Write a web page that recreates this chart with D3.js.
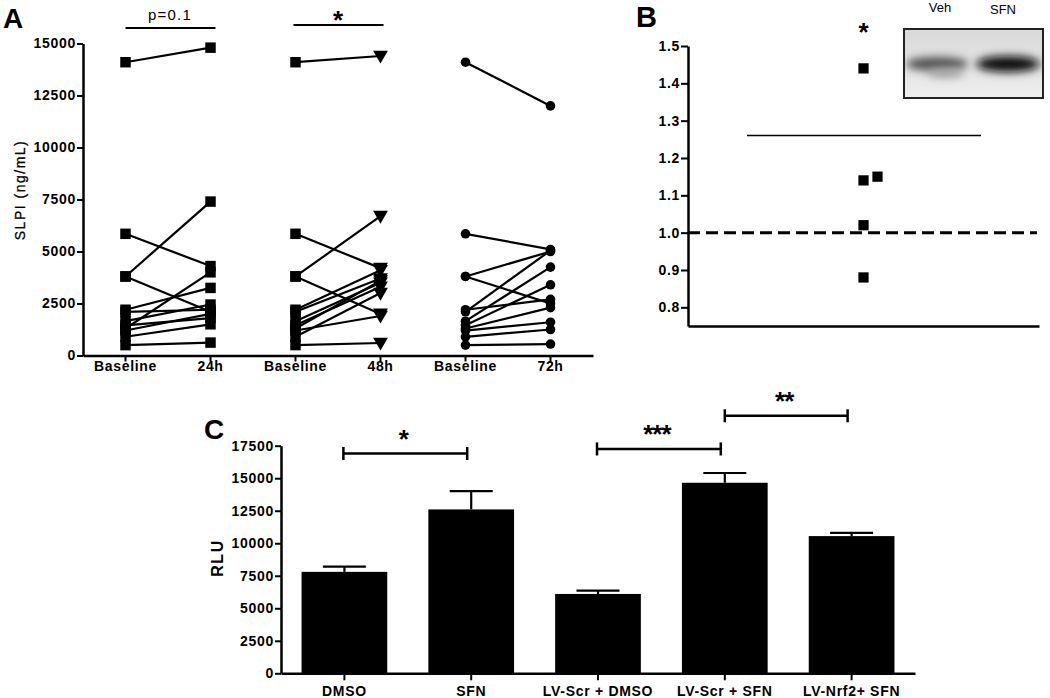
<!DOCTYPE html>
<html>
<head>
<meta charset="utf-8">
<script src="https://cdn.jsdelivr.net/npm/d3@7"></script>
<style>
  html, body { margin: 0; padding: 0; background: #fff; }
  svg { display: block; }
  text { font-family: "Liberation Sans", Arial, sans-serif; fill: #000; }
</style>
</head>
<body>
<svg id="chart" width="1050" height="698"></svg>
<script>
// ---------- Panel A data ----------
const aKeys = ["b24", "24h", "b48", "48h", "b72", "72h"];
const aLabels = ["Baseline", "24h", "Baseline", "48h", "Baseline", "72h"];
const aTicks = [0, 2500, 5000, 7500, 10000, 12500, 15000];
const baseline = [14100, 5850, 3800, 3800, 2200, 2100, 1650, 1450, 1300, 1200, 900, 500];
const h24 = [14800, 4300, 7400, 2100, 3250, 2200, 2450, 1800, 4000, 2000, 1500, 620];
const h48 = [14400, 4200, 6700, 2000, 4100, 3700, 3500, 3300, 3600, 1900, 3000, 600];
const h72 = [12000, 5100, 5000, 2500, 2700, 5050, 4250, 3400, 2300, 1600, 1250, 550];

// ---------- Panel B data ----------
const bValues = [1.44, 1.14, 1.15, 1.02, 0.88];
const bTicks = [0.8, 0.9, 1.0, 1.1, 1.2, 1.3, 1.4, 1.5];
const bReference = 1.0;
const bSigLevel = 1.26;

// ---------- Panel C data ----------
const cCategories = ["DMSO", "SFN", "LV-Scr + DMSO", "LV-Scr + SFN", "LV-Nrf2+ SFN"];
const cMeans = [7800, 12600, 6100, 14650, 10550];
const cErrors = [400, 1400, 250, 750, 250];
const cTicks = [0, 2500, 5000, 7500, 10000, 12500, 15000, 17500];
const cBrackets = [
  { from: "DMSO", to: "SFN", label: "*", level: 16900 },
  { from: "LV-Scr + DMSO", to: "LV-Scr + SFN", label: "***", level: 17250 },
  { from: "LV-Scr + SFN", to: "LV-Nrf2+ SFN", label: "**", level: 19800 }
];

const svg = d3.select("#chart");

function styleAxis(g) {
  g.select(".domain").attr("stroke", "#000").attr("stroke-width", 2.5);
  g.selectAll(".tick line").attr("stroke", "#000").attr("stroke-width", 2);
  g.selectAll(".tick text")
    .attr("fill", "#000")
    .style("font-family", '"Liberation Sans", Arial, sans-serif')
    .style("font-weight", "bold")
    .style("font-size", "14px")
    .style("letter-spacing", "0.7px");
}

// ================= PANEL A =================
const xA = d3.scaleBand().domain(aKeys).range([83, 593]);
const yA = d3.scaleLinear().domain([0, 15000]).range([355.5, 43.5]);
const cx = k => xA(k) + xA.bandwidth() / 2;

const gA = svg.append("g");
gA.append("g").attr("transform", "translate(83,0)")
  .call(d3.axisLeft(yA).tickValues(aTicks).tickSize(6).tickSizeOuter(0).tickPadding(1).tickFormat(d3.format("d")))
  .call(styleAxis);
const axA = gA.append("g").attr("transform", `translate(0,${yA(0)})`)
  .call(d3.axisBottom(xA).tickSize(6).tickSizeOuter(0).tickPadding(4).tickFormat((d, i) => aLabels[i]))
  .call(styleAxis);
axA.selectAll(".tick text").attr("y", 15).attr("dy", 0);

const pairs = [
  { a: "b24", b: "24h", base: baseline, vals: h24, symA: d3.symbolSquare, symB: d3.symbolSquare, flipB: false },
  { a: "b48", b: "48h", base: baseline, vals: h48, symA: d3.symbolSquare, symB: d3.symbolTriangle, flipB: true },
  { a: "b72", b: "72h", base: baseline, vals: h72, symA: d3.symbolCircle, symB: d3.symbolCircle, flipB: false }
];
const symSize = s => s === d3.symbolSquare ? 110 : (s === d3.symbolTriangle ? 95 : 72);
pairs.forEach(p => {
  p.base.forEach((v, i) => {
    gA.append("line")
      .attr("x1", cx(p.a)).attr("y1", yA(v))
      .attr("x2", cx(p.b)).attr("y2", yA(p.vals[i]))
      .attr("stroke", "#000").attr("stroke-width", 2.2);
  });
  p.base.forEach(v => {
    gA.append("path").attr("d", d3.symbol(p.symA, symSize(p.symA))())
      .attr("transform", `translate(${cx(p.a)},${yA(v)})`).attr("fill", "#000");
  });
  p.vals.forEach(v => {
    gA.append("path").attr("d", d3.symbol(p.symB, symSize(p.symB))())
      .attr("transform", `translate(${cx(p.b)},${yA(v) + (p.flipB ? -1 : 0)}) rotate(${p.flipB ? 180 : 0})`)
      .attr("fill", "#000");
  });
});

// significance A
gA.append("line").attr("x1", cx("b24")).attr("x2", cx("24h") + 5).attr("y1", 28).attr("y2", 28)
  .attr("stroke", "#000").attr("stroke-width", 2.2);
gA.append("text").attr("x", (cx("b24") + cx("24h")) / 2 + 2).attr("y", 20).attr("text-anchor", "middle")
  .style("font-size", "15px").style("letter-spacing", "1.2px").text("p=0.1");
gA.append("line").attr("x1", cx("b48") - 2).attr("x2", cx("48h") + 3).attr("y1", 25).attr("y2", 25)
  .attr("stroke", "#000").attr("stroke-width", 2.2);
gA.append("text").attr("x", (cx("b48") + cx("48h")) / 2).attr("y", 29).attr("text-anchor", "middle")
  .style("font-size", "26px").style("font-weight", "bold").text("*");

gA.append("text").attr("transform", "translate(25,190) rotate(-90)").attr("text-anchor", "middle")
  .style("font-size", "14px").style("letter-spacing", "1.5px").style("stroke", "#000").style("stroke-width", "0.3px")
  .text("SLPI (ng/mL)");
gA.append("text").attr("x", 3).attr("y", 28).style("font-size", "28px").style("font-weight", "bold").text("A");

// ================= PANEL B =================
const xB = d3.scaleBand().domain(["SFN"]).range([688, 1039]);
const yB = d3.scaleLinear().domain([0.75, 1.5]).range([326, 46]);
const gB = svg.append("g");
gB.append("g").attr("transform", "translate(688,0)")
  .call(d3.axisLeft(yB).tickValues(bTicks).tickSize(7).tickSizeOuter(0).tickPadding(1).tickFormat(d3.format(".1f")))
  .call(styleAxis);
gB.append("g").attr("transform", `translate(0,${yB(0.75)})`)
  .call(d3.axisBottom(xB).tickSize(0).tickSizeOuter(0).tickFormat(""))
  .call(styleAxis);
gB.append("line").attr("x1", 688).attr("x2", 1037).attr("y1", yB(bReference)).attr("y2", yB(bReference))
  .attr("stroke", "#000").attr("stroke-width", 3).attr("stroke-dasharray", "12,6");
gB.append("line").attr("x1", 747).attr("x2", 981).attr("y1", yB(bSigLevel)).attr("y2", yB(bSigLevel))
  .attr("stroke", "#000").attr("stroke-width", 1.5);
const bCenter = xB("SFN") + xB.bandwidth() / 2;
const placed = [];
bValues.forEach(v => {
  let off = 0;
  while (placed.some(p => p.off === off && Math.abs(yB(p.v) - yB(v)) < 10)) off += 14;
  placed.push({ v, off });
  gB.append("path").attr("d", d3.symbol(d3.symbolSquare, 105)())
    .attr("transform", `translate(${bCenter + off},${yB(v)})`).attr("fill", "#000");
});
gB.append("text").attr("x", bCenter).attr("y", 41).attr("text-anchor", "middle")
  .style("font-size", "26px").style("font-weight", "bold").text("*");
gB.append("text").attr("x", 636).attr("y", 27).style("font-size", "29px").style("font-weight", "bold").text("B");

// western blot inset (illustrative)
const defs = svg.append("defs");
defs.append("filter").attr("id", "blur").attr("x", "-40%").attr("y", "-120%").attr("width", "180%").attr("height", "340%")
  .append("feGaussianBlur").attr("stdDeviation", 4);
const bg = defs.append("linearGradient").attr("id", "blotbg").attr("x1", 0).attr("x2", 0).attr("y1", 0).attr("y2", 1);
bg.append("stop").attr("offset", "0%").attr("stop-color", "#d9d9d9");
bg.append("stop").attr("offset", "50%").attr("stop-color", "#e2e2e2");
bg.append("stop").attr("offset", "100%").attr("stop-color", "#efefef");
const blot = gB.append("g");
blot.append("clipPath").attr("id", "blotclip").append("rect").attr("x", 904).attr("y", 29).attr("width", 139).attr("height", 69);
const blotInner = blot.append("g").attr("clip-path", "url(#blotclip)");
blotInner.append("rect").attr("x", 904).attr("y", 29).attr("width", 139).attr("height", 69).attr("fill", "url(#blotbg)");
blotInner.append("ellipse").attr("cx", 937).attr("cy", 64).attr("rx", 31).attr("ry", 7).attr("fill", "#505050").attr("filter", "url(#blur)");
blotInner.append("ellipse").attr("cx", 946).attr("cy", 73).attr("rx", 18).attr("ry", 5).attr("fill", "#a5a5a5").attr("filter", "url(#blur)");
blotInner.append("ellipse").attr("cx", 1008).attr("cy", 64).attr("rx", 32).attr("ry", 8).attr("fill", "#111").attr("filter", "url(#blur)");
blot.append("rect").attr("x", 904).attr("y", 29).attr("width", 139).attr("height", 69)
  .attr("fill", "none").attr("stroke", "#222").attr("stroke-width", 2);
gB.append("text").attr("x", 940).attr("y", 12).attr("text-anchor", "middle").style("font-size", "13px").text("Veh");
gB.append("text").attr("x", 1003).attr("y", 14).attr("text-anchor", "middle").style("font-size", "13px").text("SFN");

// ================= PANEL C =================
const xC = d3.scaleBand().domain(cCategories).range([281, 915]).paddingInner(0.324).paddingOuter(0.162);
const yC = d3.scaleLinear().domain([0, 17500]).range([673.3, 445.7]);
const ccx = k => xC(k) + xC.bandwidth() / 2;
const gC = svg.append("g");

gC.selectAll("rect.bar").data(cCategories).join("rect").attr("class", "bar")
  .attr("x", d => xC(d)).attr("width", xC.bandwidth())
  .attr("y", (d, i) => yC(cMeans[i])).attr("height", (d, i) => yC(0) - yC(cMeans[i]))
  .attr("fill", "#000");
cCategories.forEach((c, i) => {
  const top = yC(cMeans[i] + cErrors[i]);
  gC.append("line").attr("x1", ccx(c)).attr("x2", ccx(c)).attr("y1", yC(cMeans[i])).attr("y2", top)
    .attr("stroke", "#000").attr("stroke-width", 2.2);
  gC.append("line").attr("x1", ccx(c) - 21.5).attr("x2", ccx(c) + 21.5).attr("y1", top).attr("y2", top)
    .attr("stroke", "#000").attr("stroke-width", 2.2);
});

gC.append("g").attr("transform", "translate(281,0)")
  .call(d3.axisLeft(yC).tickValues(cTicks).tickSize(6).tickSizeOuter(0).tickPadding(1).tickFormat(d3.format("d")))
  .call(styleAxis);
const axC = gC.append("g").attr("transform", `translate(0,${yC(0)})`)
  .call(d3.axisBottom(xC).tickSize(7).tickSizeOuter(0))
  .call(styleAxis);
axC.selectAll(".tick text").attr("y", 23).attr("dy", 0);

cBrackets.forEach(b => {
  const x1 = ccx(b.from) + (b.from === "LV-Scr + SFN" ? 0 : -1);
  const x2 = ccx(b.to) - 4;
  const y = yC(b.level);
  gC.append("line").attr("x1", x1).attr("x2", x2).attr("y1", y).attr("y2", y).attr("stroke", "#000").attr("stroke-width", 2.5);
  [x1, x2].forEach(x => gC.append("line").attr("x1", x).attr("x2", x).attr("y1", y - 6.5).attr("y2", y + 6.5)
    .attr("stroke", "#000").attr("stroke-width", 2.5));
  gC.append("text").attr("x", (x1 + x2) / 2 - 2).attr("y", y - 6).attr("text-anchor", "middle")
    .style("font-size", "26px").style("font-weight", "bold").style("letter-spacing", "-1px").text(b.label);
});

gC.append("text").attr("transform", "translate(223,558) rotate(-90)").attr("text-anchor", "middle")
  .style("font-size", "16px").style("font-weight", "bold").style("letter-spacing", "1.5px").text("RLU");
gC.append("text").attr("x", 204).attr("y", 439).style("font-size", "28px").style("font-weight", "bold").text("C");
</script>
</body>
</html>
